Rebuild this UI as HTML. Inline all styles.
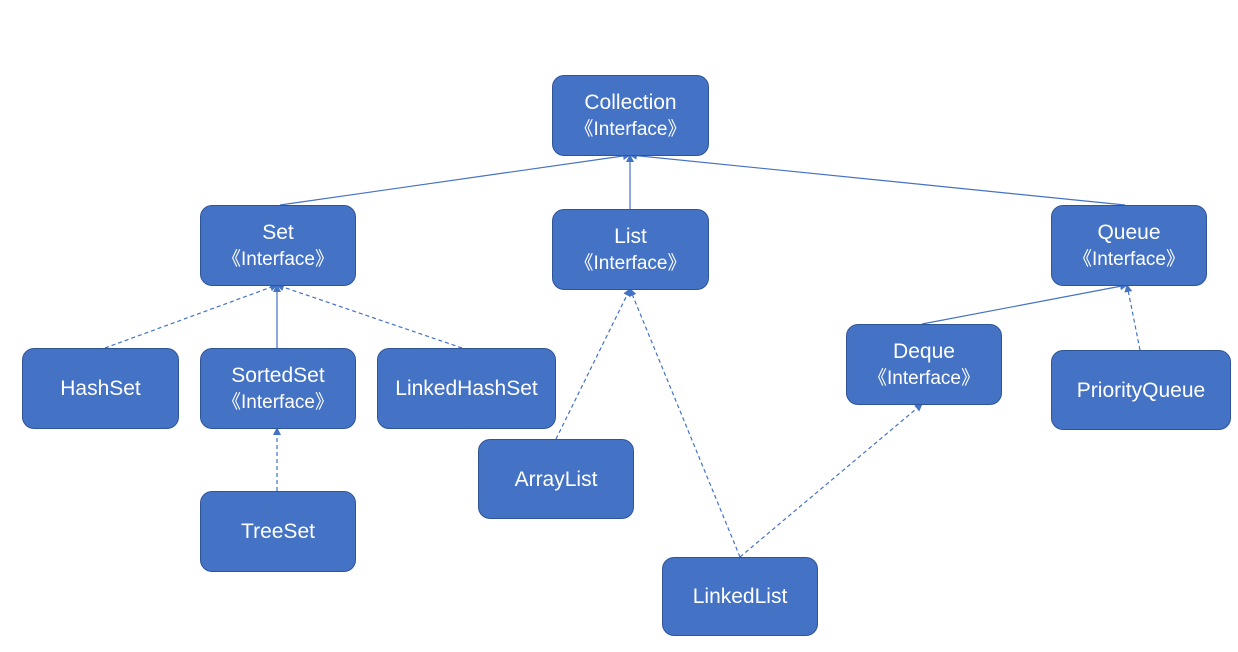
<!DOCTYPE html>
<html><head><style>
body{margin:0;background:#fff;width:1238px;height:652px;overflow:hidden;position:relative;font-family:"Liberation Sans","Noto Sans CJK SC",sans-serif}
.b{position:absolute;background:#4472C4;border:1.5px solid #2F5597;border-radius:12px;box-sizing:border-box;color:#fff;font-size:21px;display:flex;flex-direction:column;align-items:center;justify-content:center;line-height:27px}
.b span{font-size:19px}
svg{position:absolute;left:0;top:0}
</style></head><body>
<svg width="1238" height="652">
<defs><marker id="a" markerWidth="8" markerHeight="8" refX="7" refY="4" orient="auto" markerUnits="userSpaceOnUse"><path d="M0,0L8,4L0,8z" fill="#4472C4"/></marker></defs>
<g stroke="#4472C4" stroke-width="1.2" fill="none" marker-end="url(#a)">
<line x1="280" y1="205" x2="630" y2="155"/>
<line x1="630" y1="209" x2="630" y2="155"/>
<line x1="1125" y1="205" x2="630" y2="155"/>
<line x1="277" y1="348" x2="277" y2="285"/>
<line x1="922" y1="324" x2="1127" y2="285"/>
<g stroke-dasharray="4,3">
<line x1="105" y1="348" x2="277" y2="285"/>
<line x1="462" y1="348" x2="277" y2="285"/>
<line x1="277" y1="491" x2="277" y2="428"/>
<line x1="556" y1="439" x2="630" y2="289"/>
<line x1="740" y1="557" x2="630" y2="289"/>
<line x1="740" y1="557" x2="922" y2="404"/>
<line x1="1140" y1="350" x2="1127" y2="285"/>
</g></g></svg>
<div class="b" style="left:552px;top:75px;width:157px;height:81px">Collection<span>《Interface》</span></div>
<div class="b" style="left:200px;top:205px;width:156px;height:81px">Set<span>《Interface》</span></div>
<div class="b" style="left:552px;top:209px;width:157px;height:81px">List<span>《Interface》</span></div>
<div class="b" style="left:1051px;top:205px;width:156px;height:81px">Queue<span>《Interface》</span></div>
<div class="b" style="left:22px;top:348px;width:157px;height:81px">HashSet</div>
<div class="b" style="left:200px;top:348px;width:156px;height:81px">SortedSet<span>《Interface》</span></div>
<div class="b" style="left:377px;top:348px;width:179px;height:81px">LinkedHashSet</div>
<div class="b" style="left:478px;top:439px;width:156px;height:80px">ArrayList</div>
<div class="b" style="left:200px;top:491px;width:156px;height:81px">TreeSet</div>
<div class="b" style="left:846px;top:324px;width:156px;height:81px">Deque<span>《Interface》</span></div>
<div class="b" style="left:1051px;top:350px;width:180px;height:80px">PriorityQueue</div>
<div class="b" style="left:662px;top:557px;width:156px;height:79px">LinkedList</div>
</body></html>
